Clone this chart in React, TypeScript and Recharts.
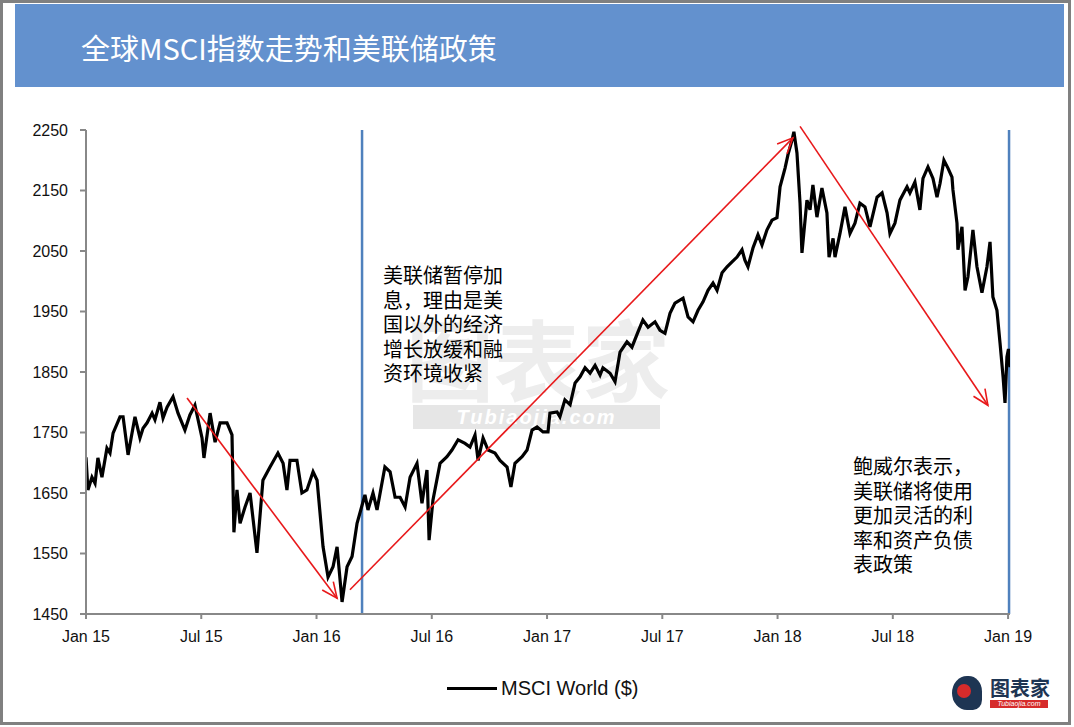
import React from "react";
import { LineChart, Line, XAxis, YAxis, ReferenceLine } from "recharts";

// months since Jan 2015
const months = [
  0.0, 0.1, 0.31, 0.47, 0.62, 0.83, 1.09, 1.25, 1.41, 1.77, 1.93, 2.19, 2.55, 2.81, 2.97, 3.18, 3.44, 3.59, 3.85, 4.01,
  4.22, 4.53, 4.79, 5.15, 5.41, 5.67, 6.04, 6.14, 6.46, 6.72, 6.98, 7.34, 7.6, 7.7, 7.86, 8.02, 8.28, 8.54, 8.9, 9.21,
  9.58, 9.99, 10.26, 10.46, 10.62, 10.98, 11.24, 11.5, 11.82, 12.03, 12.34, 12.6, 12.86, 13.07, 13.33, 13.59, 13.85, 14.11, 14.26, 14.52,
  14.68, 14.94, 15.15, 15.56, 15.83, 16.09, 16.35, 16.61, 16.87, 17.23, 17.49, 17.75, 17.86, 18.06, 18.43, 18.79, 19.05, 19.37, 19.73, 19.99,
  20.25, 20.41, 20.67, 20.93, 21.29, 21.55, 21.92, 22.12, 22.33, 22.7, 22.96, 23.22, 23.48,
  23.79, 24.05, 24.15, 24.52, 24.67, 24.93, 25.2, 25.46, 25.72, 25.98, 26.24, 26.5, 26.76, 26.91, 27.28, 27.54, 27.8, 28.16, 28.42, 28.73,
  28.99, 29.26, 29.62, 29.88, 30.14, 30.4, 30.66, 31.08, 31.34, 31.6, 31.86, 32.12, 32.38, 32.64, 32.85, 33.11, 33.37, 33.63, 33.89, 34.15,
  34.3, 34.46, 34.72, 34.98, 35.19, 35.45, 35.71, 35.97, 36.13, 36.39, 36.54, 36.75, 36.85,
  37.01, 37.17, 37.27, 37.53, 37.69, 37.84, 38.05, 38.31, 38.57, 38.68, 38.89, 38.99, 39.25, 39.51, 39.77, 40.03, 40.29, 40.55, 40.81, 41.18,
  41.44, 41.7, 41.85, 42.11, 42.37, 42.74, 42.89, 43.15, 43.41, 43.57, 43.83, 44.09, 44.3, 44.46, 44.66, 44.87, 45.08, 45.13, 45.34, 45.39,
  45.6, 45.76, 45.91, 46.17, 46.38, 46.64, 46.9, 47.06, 47.21, 47.42, 47.58, 47.74, 47.84, 47.94, 48.02, 48.1,
];

const msciWorld = [
  1709, 1655, 1676, 1666, 1708, 1676, 1724, 1716, 1749, 1776, 1776, 1713, 1776, 1741, 1757, 1766, 1782, 1771, 1800, 1774,
  1792, 1809, 1782, 1754, 1779, 1795, 1741, 1708, 1782, 1734, 1766, 1766, 1746, 1585, 1655, 1600, 1627, 1650, 1551, 1671,
  1693, 1716, 1699, 1655, 1704, 1704, 1650, 1655, 1685, 1671, 1561, 1511, 1528, 1561, 1470, 1528, 1545, 1600, 1617, 1647,
  1622, 1650, 1622, 1693, 1685, 1643, 1643, 1627, 1676, 1699, 1633, 1688, 1572, 1638, 1699, 1710, 1721, 1738, 1732, 1726,
  1746, 1704, 1741, 1721, 1716, 1704, 1693, 1660, 1699, 1710, 1721, 1754, 1759,
  1751, 1751, 1782, 1784, 1776, 1804, 1796, 1832, 1842, 1857, 1848, 1861, 1845, 1857, 1848, 1834, 1883, 1900, 1891, 1916,
  1936, 1924, 1933, 1919, 1914, 1947, 1964, 1972, 1941, 1933, 1952, 1966, 1985, 1997, 1985, 2014, 2024, 2032, 2040, 2052,
  2035, 2024, 2055, 2077, 2060, 2085, 2101, 2105, 2156, 2187, 2209, 2233, 2247,
  2212, 2129, 2047, 2134, 2118, 2159, 2106, 2154, 2113, 2040, 2071, 2040, 2079, 2123, 2079, 2096, 2129, 2123, 2090, 2139,
  2146, 2113, 2079, 2096, 2134, 2156, 2146, 2164, 2118, 2170, 2189, 2170, 2139, 2162, 2200, 2187, 2172, 2151, 2096, 2052,
  2090, 1985, 2007, 2085, 2024, 1981, 2024, 2065, 1974, 1952, 1898, 1842, 1799, 1875, 1888, 1858,
];

const xTickMonths = [0, 6, 12, 18, 24, 30, 36, 42, 48];
const xTickLabels = ["Jan 15", "Jul 15", "Jan 16", "Jul 16", "Jan 17", "Jul 17", "Jan 18", "Jul 18", "Jan 19"];
const yTicks = [1450, 1550, 1650, 1750, 1850, 1950, 2050, 2150, 2250];

// Fed policy markers (months since Jan 2015)
const fedPauseMonth = 14.37;
const powellMonth = 48.05;

// trend arrows: [startMonth, startValue, endMonth, endValue]
const arrowDown1 = [5.26, 1807, 13.07, 1476];
const arrowUp = [13.74, 1490, 36.8, 2237];
const arrowDown2 = [37.17, 2256, 46.95, 1795];

const title = "全球MSCI指数走势和美联储政策";
const note1 = ["美联储暂停加", "息，理由是美", "国以外的经济", "增长放缓和融", "资环境收紧"];
const note2 = ["鲍威尔表示，", "美联储将使用", "更加灵活的利", "率和资产负债", "表政策"];
const seriesName = "MSCI World ($)";

const data = months.map((t, i) => ({ t, v: msciWorld[i] }));

const ArrowShape = (props: any) => {
  const { x1, y1, x2, y2 } = props;
  if ([x1, y1, x2, y2].some((n) => typeof n !== "number" || isNaN(n))) return null;
  const ang = Math.atan2(y2 - y1, x2 - x1);
  const len = 17;
  const spread = (24 * Math.PI) / 180;
  const ax = x2 - len * Math.cos(ang - spread);
  const ay = y2 - len * Math.sin(ang - spread);
  const bx = x2 - len * Math.cos(ang + spread);
  const by = y2 - len * Math.sin(ang + spread);
  return (
    <g>
      <line x1={x1} y1={y1} x2={x2} y2={y2} stroke="#E8191B" strokeWidth={1.6} />
      <polyline points={`${ax},${ay} ${x2},${y2} ${bx},${by}`} fill="none" stroke="#E8191B" strokeWidth={1.6} />
    </g>
  );
};

const seg = (a: number[]) => [
  { x: a[0], y: a[1] },
  { x: a[2], y: a[3] },
];

const cjk = '"Noto Sans CJK SC", "Noto Sans", sans-serif';
const latin = '"Liberation Sans", Arial, sans-serif';

export default function App() {
  return (
    <div style={{ position: "absolute", left: 0, top: 0, width: 1074, height: 727, background: "#ffffff", overflow: "hidden" }}>
      {/* header */}
      <div style={{ position: "absolute", left: 15, top: 4, width: 1049, height: 83, background: "#6391CE" }} />
      <div
        style={{
          position: "absolute",
          left: 81,
          top: 33,
          fontFamily: cjk,
          fontSize: 29,
          lineHeight: "29px",
          color: "#ffffff",
          whiteSpace: "nowrap",
        }}
      >
        {title}
      </div>

      {/* watermark */}
      <div
        style={{
          position: "absolute",
          left: 406,
          top: 306,
          fontFamily: cjk,
          fontSize: 88,
          fontWeight: 700,
          lineHeight: "100px",
          color: "#ededed",
          whiteSpace: "nowrap",
        }}
      >
        图表家
      </div>
      <div
        style={{
          position: "absolute",
          left: 413,
          top: 405,
          width: 247,
          height: 24,
          background: "#e6e6e6",
          color: "#ffffff",
          fontFamily: latin,
          fontStyle: "italic",
          fontWeight: 700,
          fontSize: 20,
          lineHeight: "24px",
          textAlign: "center",
          letterSpacing: 2,
        }}
      >
        Tubiaojia.com
      </div>

      <div style={{ position: "absolute", left: 0, top: 0 }}>
        <LineChart width={1074} height={727} data={data} margin={{ top: 130, right: 64, left: 26, bottom: 83 }}>
          <XAxis
            dataKey="t"
            type="number"
            domain={[0, 48.1]}
            ticks={xTickMonths}
            tickFormatter={(v: number) => xTickLabels[xTickMonths.indexOf(v)] ?? ""}
            height={30}
            stroke="#888888"
            strokeWidth={2}
            tickSize={5}
            tickMargin={12}
            tick={{ fill: "#111111", fontSize: 16, fontFamily: latin }}
            allowDataOverflow
            interval={0}
          />
          <YAxis
            type="number"
            domain={[1450, 2250]}
            ticks={yTicks}
            width={60}
            stroke="#888888"
            strokeWidth={2}
            tickSize={6}
            tickMargin={12}
            tick={{ fill: "#111111", fontSize: 16, fontFamily: latin }}
            allowDataOverflow
            interval={0}
          />
          <ReferenceLine x={fedPauseMonth} stroke="#4F81BD" strokeWidth={2.5} />
          <ReferenceLine x={powellMonth} stroke="#4F81BD" strokeWidth={2.5} />
          <Line
            dataKey="v"
            name={seriesName}
            stroke="#000000"
            strokeWidth={3.2}
            dot={false}
            type="linear"
            isAnimationActive={false}
          />
          <ReferenceLine segment={seg(arrowDown1)} ifOverflow="visible" shape={ArrowShape} />
          <ReferenceLine segment={seg(arrowUp)} ifOverflow="visible" shape={ArrowShape} />
          <ReferenceLine segment={seg(arrowDown2)} ifOverflow="visible" shape={ArrowShape} />
        </LineChart>
      </div>

      {/* annotations */}
      <div
        style={{ position: "absolute", left: 383, top: 263, fontFamily: cjk, fontSize: 20, lineHeight: "24.5px", color: "#000" }}
      >
        {note1.map((s) => (
          <div key={s}>{s}</div>
        ))}
      </div>
      <div
        style={{ position: "absolute", left: 853, top: 454, fontFamily: cjk, fontSize: 20, lineHeight: "24.5px", color: "#000" }}
      >
        {note2.map((s) => (
          <div key={s}>{s}</div>
        ))}
      </div>

      {/* legend */}
      <div style={{ position: "absolute", left: 447, top: 686.5, width: 50, height: 3, background: "#000" }} />
      <div
        style={{
          position: "absolute",
          left: 501,
          top: 678,
          fontFamily: latin,
          fontSize: 20,
          lineHeight: "20px",
          color: "#111",
          whiteSpace: "nowrap",
        }}
      >
        {seriesName}
      </div>

      {/* logo */}
      <div style={{ position: "absolute", left: 952, top: 676, width: 30, height: 34, borderRadius: "50% 45% 30% 50%", background: "#1E3553" }} />
      <div style={{ position: "absolute", left: 957, top: 684, width: 14, height: 14, borderRadius: "50%", background: "#D62B2B" }} />
      <div
        style={{
          position: "absolute",
          left: 990,
          top: 677,
          fontFamily: cjk,
          fontSize: 20,
          fontWeight: 700,
          lineHeight: "22px",
          color: "#1E3553",
          whiteSpace: "nowrap",
        }}
      >
        图表家
      </div>
      <div
        style={{
          position: "absolute",
          left: 990,
          top: 700,
          width: 58,
          height: 8,
          background: "#D62B2B",
          color: "#fff",
          fontSize: 7,
          lineHeight: "8px",
          fontFamily: latin,
          textAlign: "center",
          fontStyle: "italic",
        }}
      >
        Tubiaojia.com
      </div>

      {/* frame */}
      <div
        style={{
          position: "absolute",
          left: 0,
          top: 0,
          width: 1071,
          height: 725,
          boxSizing: "border-box",
          border: "3px solid #808080",
          pointerEvents: "none",
        }}
      />
    </div>
  );
}
